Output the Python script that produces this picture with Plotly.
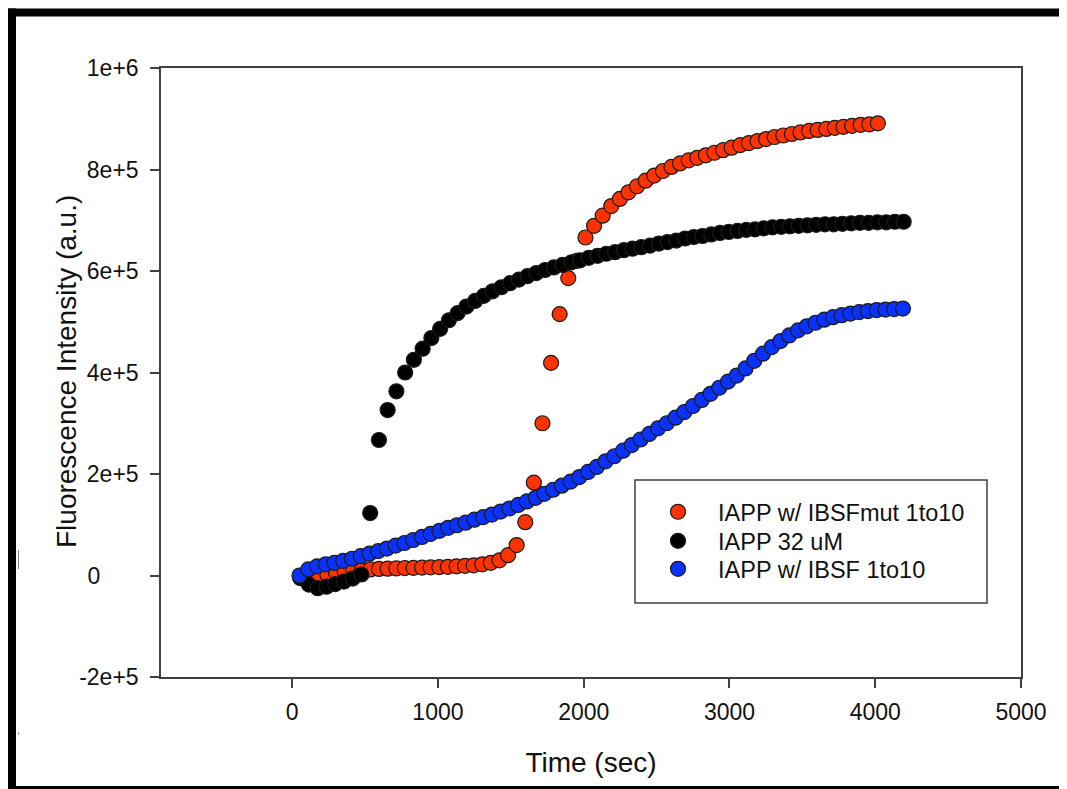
import plotly.graph_objects as go

# ---------------- data ----------------
time_red = [65 + 59 * k for k in range(68)]
fl_red = [0, -3000, -2000, 2000, 5000, 8000, 10000, 11000, 12000, 13000,
          13500, 14000, 14500, 15000, 15500, 16000, 16500, 17000, 18000, 19000,
          20000, 22000, 25000, 30000, 40000, 60000, 105000, 183000, 300000, 419000,
          515000, 586000, 620000, 666000, 689000, 709000, 728000, 742000, 755000, 767000,
          778000, 788000, 797000, 805000, 812000, 818000, 823000, 828000, 833000, 838000,
          843000, 848000, 852000, 856000, 860000, 864000, 867000, 870000, 873000, 876000,
          878000, 880000, 882000, 884000, 886000, 888000, 889000, 891000]

time_black = [55 + 60 * k for k in range(70)]
fl_black = [-5000, -18000, -25000, -22000, -17000, -12000, -6000, 2000, 123000, 267000,
            326000, 363000, 400000, 425000, 447000, 468000, 486000, 503000, 517000, 530000,
            541000, 551000, 560000, 568000, 576000, 583000, 590000, 596000, 602000, 607000,
            612000, 617000, 621000, 626000, 630000, 634000, 637000, 641000, 644000, 647000,
            650000, 654000, 657000, 660000, 664000, 667000, 669000, 672000, 675000, 677000,
            679000, 681000, 682000, 684000, 686000, 687000, 688000, 689000, 690000, 691000,
            692000, 692000, 693000, 694000, 695000, 695000, 696000, 696000, 697000, 697000]

time_blue = [50 + 60 * k for k in range(70)]
fl_blue = [0, 12000, 18000, 22000, 25000, 29000, 33000, 38000, 43000, 48000,
           53000, 59000, 64000, 70000, 76000, 82000, 88000, 94000, 99000, 104000,
           110000, 115000, 120000, 126000, 132000, 139000, 146000, 153000, 161000, 169000,
           177000, 185000, 194000, 204000, 214000, 225000, 235000, 246000, 257000, 268000,
           279000, 290000, 300000, 311000, 322000, 334000, 346000, 358000, 370000, 382000,
           394000, 408000, 423000, 437000, 450000, 462000, 473000, 483000, 491000, 498000,
           504000, 509000, 513000, 516000, 519000, 521000, 523000, 524000, 525000, 526000]

series_names = ["IAPP w/ IBSFmut 1to10", "IAPP 32 uM", "IAPP w/ IBSF 1to10"]
series_colors = ["#ff3300", "#000000", "#0a32ff"]

x_tickvals = [0, 1000, 2000, 3000, 4000, 5000]
x_ticktext = ["0", "1000", "2000", "3000", "4000", "5000"]
y_tickvals = [-200000, 0, 200000, 400000, 600000, 800000, 1000000]
y_ticktext = ["-2e+5", "0\u2007\u2007\u2007", "2e+5", "4e+5", "6e+5", "8e+5", "1e+6"]

FONT = "Liberation Sans, Arial, Helvetica, sans-serif"
AX = "#404040"

# ---------------- geometry (reference pixel coords; page body adds an 8px offset) ----------------
OFF = 8
W, H = 1067 - OFF, 789 - OFF
PL, PR, PT, PB = 161, 1021, 68, 677          # plot area in reference pixels
L, T = PL - OFF, PT - OFF
R, B = W - (PR - OFF), H - (PB - OFF)
PW, PH = PR - PL, PB - PT


def px(xp):
    return (xp - PL) / PW


def py(yp):
    return (PB - yp) / PH


fig = go.Figure()
legend_ids = ["legend", "legend2", "legend3"]
for xs, ys, name, col, lg in zip([time_red, time_black, time_blue],
                                 [fl_red, fl_black, fl_blue],
                                 series_names, series_colors, legend_ids):
    fig.add_trace(go.Scatter(
        x=xs, y=ys, mode="markers", name=name, legend=lg,
        marker=dict(size=15, color=col, line=dict(color="#1a1a1a", width=1.2)),
    ))

axis_common = dict(
    showline=True, linecolor=AX, linewidth=1.5, mirror=True,
    ticks="outside", ticklen=9, tickwidth=1.5, tickcolor=AX,
    showgrid=False, zeroline=False,
    tickfont=dict(family=FONT, size=23, color="#111"),
)

fig.update_xaxes(range=[-900, 5000], tickvals=x_tickvals, ticktext=x_ticktext,
                 ticklabelstandoff=5,
                 title=dict(text="Time (sec)", font=dict(family=FONT, size=28, color="#111"),
                            standoff=28),
                 **axis_common)
fig.update_yaxes(range=[-200000, 1000000], tickvals=y_tickvals, ticktext=y_ticktext,
                 ticklabelstandoff=7,
                 **axis_common)

# outer black frame of the picture, legend box, small scan marks
shapes = [
    dict(type="rect", xref="paper", yref="paper", x0=px(7), x1=px(1075), y0=py(16.5), y1=py(8.5),
         fillcolor="black", line=dict(width=0), layer="above"),
    dict(type="rect", xref="paper", yref="paper", x0=px(7), x1=px(16), y0=py(795), y1=py(8.5),
         fillcolor="black", line=dict(width=0), layer="above"),
    dict(type="rect", xref="paper", yref="paper", x0=px(7), x1=px(1075), y0=py(795), y1=py(786),
         fillcolor="black", line=dict(width=0), layer="above"),
    dict(type="rect", xref="paper", yref="paper", x0=px(635), x1=px(987), y0=py(603), y1=py(480),
         fillcolor="rgba(0,0,0,0)", line=dict(color=AX, width=1.5), layer="above"),
    dict(type="line", xref="paper", yref="paper", x0=px(18.5), x1=px(18.5), y0=py(569), y1=py(550),
         line=dict(color="#888", width=1)),
    dict(type="line", xref="paper", yref="paper", x0=px(18.5), x1=px(18.5), y0=py(735), y1=py(732),
         line=dict(color="#999", width=1)),
]

annotations = [
    dict(text="Fluorescence Intensity (a.u.)", textangle=-90, showarrow=False,
         xref="paper", yref="paper", x=px(67), y=py(372), xanchor="center", yanchor="middle",
         font=dict(family=FONT, size=28, color="#111")),
]

legend_rows = [512, 541, 569]
legend_common = dict(x=px(638), xanchor="left", yanchor="middle",
                     bgcolor="rgba(0,0,0,0)", borderwidth=0,
                     font=dict(family=FONT, size=23.5, color="#111"), itemwidth=70)

fig.update_layout(
    width=W, height=H,
    margin=dict(l=L, r=R, t=T, b=B, pad=0),
    paper_bgcolor="white", plot_bgcolor="white",
    font=dict(family=FONT, color="#111"),
    showlegend=True,
    legend=dict(y=py(legend_rows[0]), **legend_common),
    legend2=dict(y=py(legend_rows[1]), **legend_common),
    legend3=dict(y=py(legend_rows[2]), **legend_common),
    shapes=shapes,
    annotations=annotations,
)

fig.write_html("out.html")
